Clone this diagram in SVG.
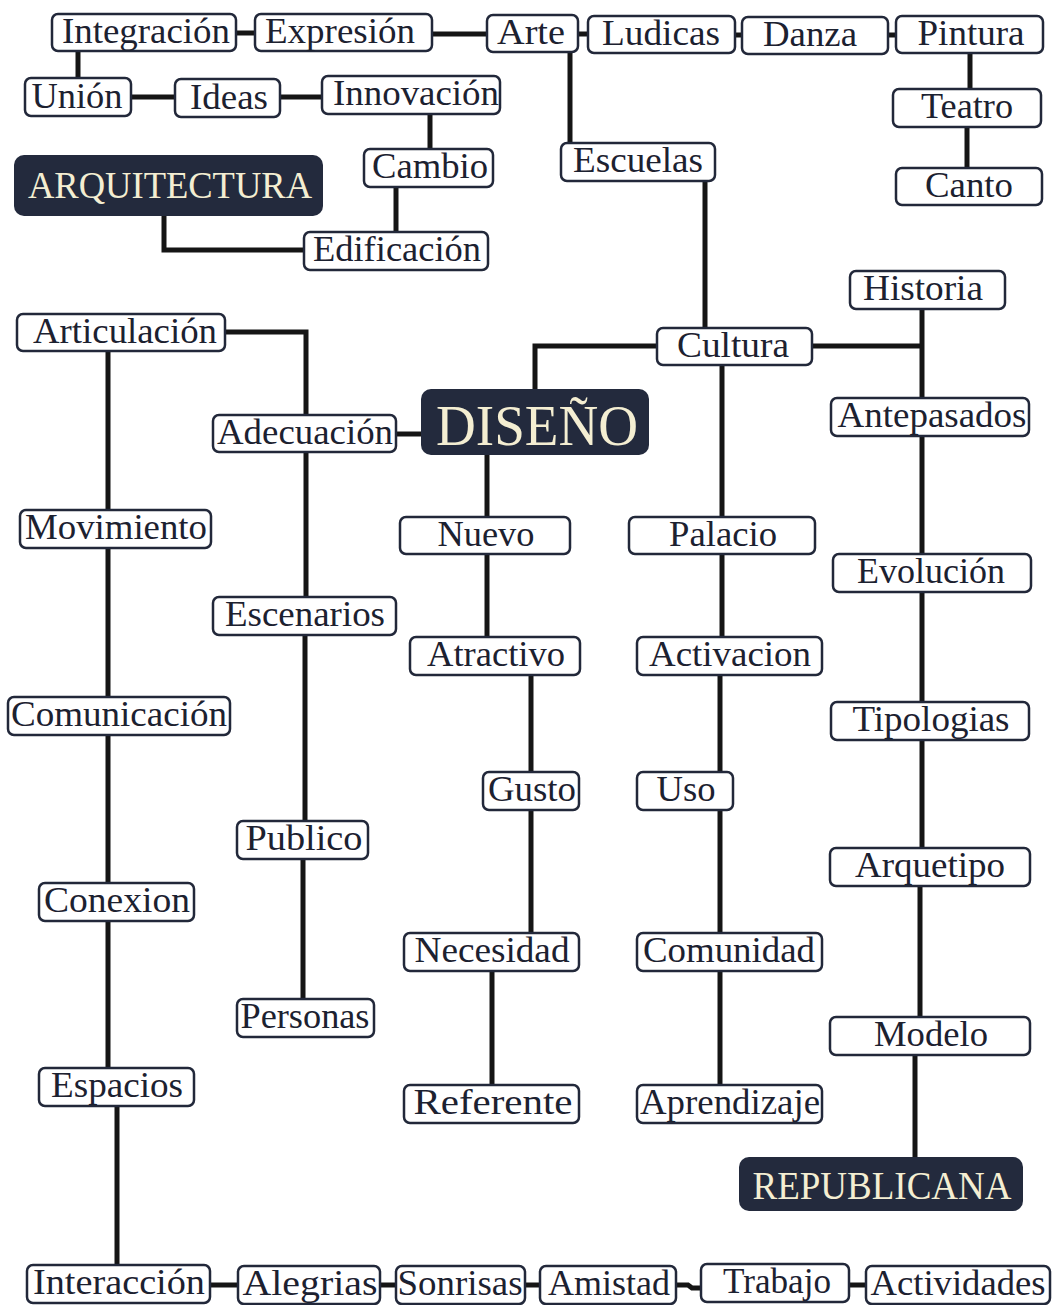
<svg xmlns="http://www.w3.org/2000/svg" width="1053" height="1305" viewBox="0 0 1053 1305">
<style>
.bg{fill:#ffffff}
.c path{stroke:#151515;stroke-width:5;fill:none;stroke-linejoin:miter}
.n rect{fill:#ffffff;stroke:#22283a;stroke-width:2.5}
.n text{font-family:"Liberation Serif","DejaVu Serif",serif;font-size:35px;fill:#1c2130;text-anchor:middle}
.d rect{fill:#232a3d;stroke:none}
.d text{font-family:"Liberation Serif","DejaVu Serif",serif;fill:#f4eed2;text-anchor:middle}
</style>
<rect class="bg" x="0" y="0" width="1053" height="1305"/>
<g id="connectors" class="c">
<path d="M236 33H255"/>
<path d="M432 34H487"/>
<path d="M578 34H588"/>
<path d="M735 35H742"/>
<path d="M888 35H896"/>
<path d="M78 51V78"/>
<path d="M131 97H175"/>
<path d="M280 97H322"/>
<path d="M430 114V149"/>
<path d="M396 187V232"/>
<path d="M164 216V250H304"/>
<path d="M570 52V143"/>
<path d="M970 53V89"/>
<path d="M967 127V168"/>
<path d="M705 181V328"/>
<path d="M657 346H535V389"/>
<path d="M812 346H922"/>
<path d="M922 309V398"/>
<path d="M922 436V554"/>
<path d="M922 592V702"/>
<path d="M922 740V848"/>
<path d="M920 886V1017"/>
<path d="M915 1055V1157"/>
<path d="M722 365V517"/>
<path d="M722 554V637"/>
<path d="M720 675V772"/>
<path d="M720 810V933"/>
<path d="M720 971V1085"/>
<path d="M487 455V517"/>
<path d="M487 554V637"/>
<path d="M531 675V772"/>
<path d="M531 810V933"/>
<path d="M492 971V1085"/>
<path d="M396 434H421"/>
<path d="M225 332H306V415"/>
<path d="M306 452V597"/>
<path d="M305 635V821"/>
<path d="M303 859V999"/>
<path d="M108 351V510"/>
<path d="M108 548V697"/>
<path d="M108 735V883"/>
<path d="M108 921V1068"/>
<path d="M117 1106V1265"/>
<path d="M210 1285H238"/>
<path d="M380 1285H396"/>
<path d="M525 1285H540"/>
<path d="M676 1285H688L692 1288H701"/>
<path d="M849 1285H866"/>
</g>
<g id="integracion" class="n"><rect x="52" y="14" width="184" height="37" rx="6"/><text x="146" y="43" textLength="168" lengthAdjust="spacingAndGlyphs">Integración</text></g>
<g id="expresion" class="n"><rect x="255" y="14" width="177" height="37" rx="6"/><text x="340" y="43" textLength="150" lengthAdjust="spacingAndGlyphs">Expresión</text></g>
<g id="arte" class="n"><rect x="487" y="15" width="91" height="37" rx="6"/><text x="531" y="44" textLength="68" lengthAdjust="spacingAndGlyphs">Arte</text></g>
<g id="ludicas" class="n"><rect x="588" y="16" width="147" height="37" rx="6"/><text x="661" y="45" textLength="118" lengthAdjust="spacingAndGlyphs">Ludicas</text></g>
<g id="danza" class="n"><rect x="742" y="17" width="146" height="37" rx="6"/><text x="810" y="46" textLength="94" lengthAdjust="spacingAndGlyphs">Danza</text></g>
<g id="pintura" class="n"><rect x="896" y="16" width="147" height="37" rx="6"/><text x="971" y="45" textLength="107" lengthAdjust="spacingAndGlyphs">Pintura</text></g>
<g id="union" class="n"><rect x="25" y="78" width="106" height="38" rx="6"/><text x="77" y="108" textLength="91" lengthAdjust="spacingAndGlyphs">Unión</text></g>
<g id="ideas" class="n"><rect x="175" y="79" width="105" height="38" rx="6"/><text x="229" y="109" textLength="78" lengthAdjust="spacingAndGlyphs">Ideas</text></g>
<g id="innovacion" class="n"><rect x="322" y="76" width="178" height="38" rx="6"/><text x="416" y="105" textLength="166" lengthAdjust="spacingAndGlyphs">Innovación</text></g>
<g id="teatro" class="n"><rect x="893" y="89" width="148" height="38" rx="6"/><text x="967" y="118" textLength="92" lengthAdjust="spacingAndGlyphs">Teatro</text></g>
<g id="cambio" class="n"><rect x="364" y="149" width="129" height="38" rx="6"/><text x="430" y="178" textLength="116" lengthAdjust="spacingAndGlyphs">Cambio</text></g>
<g id="escuelas" class="n"><rect x="561" y="143" width="154" height="38" rx="6"/><text x="638" y="172" textLength="130" lengthAdjust="spacingAndGlyphs">Escuelas</text></g>
<g id="canto" class="n"><rect x="896" y="168" width="146" height="37" rx="6"/><text x="969" y="197" textLength="88" lengthAdjust="spacingAndGlyphs">Canto</text></g>
<g id="arquitectura" class="d"><rect x="14" y="155" width="309" height="61" rx="10"/><text x="170" y="198" font-size="37" textLength="284" lengthAdjust="spacingAndGlyphs">ARQUITECTURA</text></g>
<g id="edificacion" class="n"><rect x="304" y="232" width="184" height="38" rx="6"/><text x="397" y="261" textLength="168" lengthAdjust="spacingAndGlyphs">Edificación</text></g>
<g id="historia" class="n"><rect x="850" y="271" width="155" height="38" rx="6"/><text x="923" y="300" textLength="120" lengthAdjust="spacingAndGlyphs">Historia</text></g>
<g id="articulacion" class="n"><rect x="17" y="314" width="208" height="37" rx="6"/><text x="125" y="343" textLength="184" lengthAdjust="spacingAndGlyphs">Articulación</text></g>
<g id="cultura" class="n"><rect x="657" y="328" width="155" height="37" rx="6"/><text x="733" y="357" textLength="112" lengthAdjust="spacingAndGlyphs">Cultura</text></g>
<g id="diseno" class="d"><rect x="421" y="389" width="228" height="66" rx="10"/><text x="537" y="445" font-size="58" textLength="202" lengthAdjust="spacingAndGlyphs">DISEÑO</text></g>
<g id="adecuacion" class="n"><rect x="213" y="415" width="183" height="37" rx="6"/><text x="305" y="444" textLength="176" lengthAdjust="spacingAndGlyphs">Adecuación</text></g>
<g id="antepasados" class="n"><rect x="831" y="398" width="198" height="38" rx="6"/><text x="932" y="427" textLength="189" lengthAdjust="spacingAndGlyphs">Antepasados</text></g>
<g id="movimiento" class="n"><rect x="20" y="510" width="191" height="38" rx="6"/><text x="116" y="539" textLength="182" lengthAdjust="spacingAndGlyphs">Movimiento</text></g>
<g id="nuevo" class="n"><rect x="400" y="517" width="170" height="37" rx="6"/><text x="486" y="546" textLength="97" lengthAdjust="spacingAndGlyphs">Nuevo</text></g>
<g id="palacio" class="n"><rect x="629" y="517" width="186" height="37" rx="6"/><text x="723" y="546" textLength="108" lengthAdjust="spacingAndGlyphs">Palacio</text></g>
<g id="evolucion" class="n"><rect x="833" y="554" width="198" height="38" rx="6"/><text x="931" y="583" textLength="148" lengthAdjust="spacingAndGlyphs">Evolución</text></g>
<g id="escenarios" class="n"><rect x="213" y="597" width="183" height="38" rx="6"/><text x="305" y="626" textLength="160" lengthAdjust="spacingAndGlyphs">Escenarios</text></g>
<g id="atractivo" class="n"><rect x="410" y="637" width="170" height="38" rx="6"/><text x="496" y="666" textLength="138" lengthAdjust="spacingAndGlyphs">Atractivo</text></g>
<g id="activacion" class="n"><rect x="637" y="637" width="185" height="38" rx="6"/><text x="730" y="666" textLength="162" lengthAdjust="spacingAndGlyphs">Activacion</text></g>
<g id="comunicacion" class="n"><rect x="8" y="697" width="222" height="38" rx="6"/><text x="119" y="726" textLength="216" lengthAdjust="spacingAndGlyphs">Comunicación</text></g>
<g id="tipologias" class="n"><rect x="831" y="702" width="198" height="38" rx="6"/><text x="931" y="731" textLength="157" lengthAdjust="spacingAndGlyphs">Tipologias</text></g>
<g id="gusto" class="n"><rect x="483" y="772" width="96" height="38" rx="6"/><text x="532" y="801" textLength="88" lengthAdjust="spacingAndGlyphs">Gusto</text></g>
<g id="uso" class="n"><rect x="637" y="772" width="96" height="38" rx="6"/><text x="686" y="801" textLength="59" lengthAdjust="spacingAndGlyphs">Uso</text></g>
<g id="publico" class="n"><rect x="237" y="821" width="131" height="38" rx="6"/><text x="304" y="850" textLength="117" lengthAdjust="spacingAndGlyphs">Publico</text></g>
<g id="arquetipo" class="n"><rect x="830" y="848" width="200" height="38" rx="6"/><text x="930" y="877" textLength="150" lengthAdjust="spacingAndGlyphs">Arquetipo</text></g>
<g id="conexion" class="n"><rect x="39" y="883" width="155" height="38" rx="6"/><text x="117" y="912" textLength="146" lengthAdjust="spacingAndGlyphs">Conexion</text></g>
<g id="necesidad" class="n"><rect x="404" y="933" width="175" height="38" rx="6"/><text x="492" y="962" textLength="155" lengthAdjust="spacingAndGlyphs">Necesidad</text></g>
<g id="comunidad" class="n"><rect x="637" y="933" width="185" height="38" rx="6"/><text x="729" y="962" textLength="172" lengthAdjust="spacingAndGlyphs">Comunidad</text></g>
<g id="personas" class="n"><rect x="237" y="999" width="137" height="38" rx="6"/><text x="305" y="1028" textLength="129" lengthAdjust="spacingAndGlyphs">Personas</text></g>
<g id="modelo" class="n"><rect x="830" y="1017" width="200" height="38" rx="6"/><text x="931" y="1046" textLength="114" lengthAdjust="spacingAndGlyphs">Modelo</text></g>
<g id="espacios" class="n"><rect x="39" y="1068" width="155" height="38" rx="6"/><text x="117" y="1097" textLength="132" lengthAdjust="spacingAndGlyphs">Espacios</text></g>
<g id="referente" class="n"><rect x="404" y="1085" width="175" height="38" rx="6"/><text x="493" y="1114" textLength="159" lengthAdjust="spacingAndGlyphs">Referente</text></g>
<g id="aprendizaje" class="n"><rect x="637" y="1085" width="185" height="38" rx="6"/><text x="730" y="1114" textLength="180" lengthAdjust="spacingAndGlyphs">Aprendizaje</text></g>
<g id="republicana" class="d"><rect x="739" y="1157" width="284" height="54" rx="10"/><text x="882" y="1199" font-size="40" textLength="259" lengthAdjust="spacingAndGlyphs">REPUBLICANA</text></g>
<g id="interaccion" class="n"><rect x="27" y="1265" width="183" height="38" rx="6"/><text x="119" y="1294" textLength="172" lengthAdjust="spacingAndGlyphs">Interacción</text></g>
<g id="alegrias" class="n"><rect x="238" y="1266" width="142" height="38" rx="6"/><text x="310" y="1295" textLength="135" lengthAdjust="spacingAndGlyphs">Alegrias</text></g>
<g id="sonrisas" class="n"><rect x="396" y="1266" width="129" height="38" rx="6"/><text x="460" y="1295" textLength="125" lengthAdjust="spacingAndGlyphs">Sonrisas</text></g>
<g id="amistad" class="n"><rect x="540" y="1266" width="136" height="38" rx="6"/><text x="609" y="1295" textLength="122" lengthAdjust="spacingAndGlyphs">Amistad</text></g>
<g id="trabajo" class="n"><rect x="701" y="1264" width="148" height="38" rx="6"/><text x="777" y="1293" textLength="108" lengthAdjust="spacingAndGlyphs">Trabajo</text></g>
<g id="actividades" class="n"><rect x="866" y="1266" width="184" height="38" rx="6"/><text x="958" y="1295" textLength="175" lengthAdjust="spacingAndGlyphs">Actividades</text></g>
</svg>
